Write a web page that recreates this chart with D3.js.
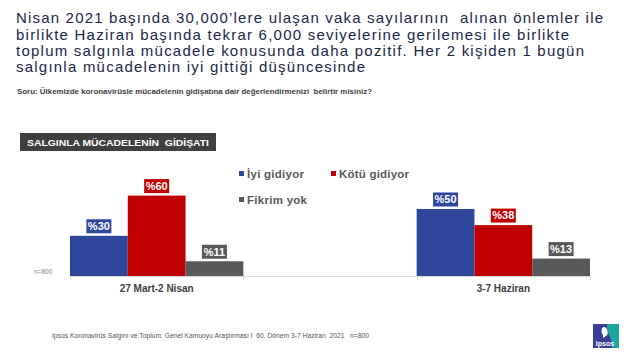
<!DOCTYPE html>
<html>
<head>
<meta charset="utf-8">
<script src="https://cdn.jsdelivr.net/npm/d3@7"></script>
<style>
  html, body { margin: 0; padding: 0; background: #fff; }
  svg { display: block; }
  text { font-family: "Liberation Sans", Arial, sans-serif; white-space: pre; }
</style>
</head>
<body>
<svg id="chart" width="640" height="360"></svg>
<script>
// ---- data ----
const titleLines = [
  "Nisan 2021 başında 30,000’lere ulaşan vaka sayılarının  alınan önlemler ile",
  "birlikte Haziran başında tekrar 6,000 seviyelerine gerilemesi ile birlikte",
  "toplum salgınla mücadele konusunda daha pozitif. Her 2 kişiden 1 bugün",
  "salgınla mücadelenin iyi gittiği düşüncesinde"
];
const question = "Soru: Ülkemizde koronavirüsle mücadelenin gidişatına dair değerlendirmenizi  belirtir misiniz?";
const boxTitle = "SALGINLA MÜCADELENİN  GİDİŞATI";
const footer = "Ipsos Koronavirüs Salgını ve Toplum: Genel Kamuoyu Araştırması I  60. Dönem 3-7 Haziran  2021   n=800";
const sampleNote = "n=800";

const periods = ["27 Mart-2 Nisan", "3-7 Haziran"];
const seriesNames = ["İyi gidiyor", "Kötü gidiyor", "Fikrim yok"];
const iyiValues = [30, 50];
const kotuValues = [60, 38];
const fikrimValues = [11, 13];
const seriesColors = ["#2f479b", "#c00000", "#595959"];

// ---- layout ----
const svg = d3.select("#chart");
const baseY = 276;
const x = d3.scaleBand().domain(periods).range([70, 590]).paddingInner(0.5).paddingOuter(0);
const xs = d3.scaleBand().domain(seriesNames).range([0, x.bandwidth()]).padding(0);
const y = d3.scaleLinear().domain([0, 100]).range([baseY, 142]);

// title
const titleBaselines = [23.3, 39.5, 55.8, 72];
const titleLengths = [587, 553, 568, 349];
svg.selectAll("text.title").data(titleLines).join("text")
  .attr("class", "title")
  .attr("x", 16)
  .attr("y", (d, i) => titleBaselines[i])
  .attr("textLength", (d, i) => titleLengths[i])
  .attr("lengthAdjust", "spacing")
  .attr("font-size", 15)
  .attr("fill", "#1c2748")
  .text(d => d);

svg.append("text")
  .attr("x", 17).attr("y", 94)
  .attr("textLength", 355).attr("lengthAdjust", "spacingAndGlyphs")
  .attr("font-size", 7.2).attr("font-weight", "bold")
  .attr("fill", "#404040")
  .text(question);

// box title
svg.append("rect").attr("x", 20).attr("y", 133).attr("width", 196).attr("height", 18).attr("fill", "#404040");
svg.append("text")
  .attr("x", 27).attr("y", 145.5)
  .attr("textLength", 182).attr("lengthAdjust", "spacingAndGlyphs")
  .attr("font-size", 9.8).attr("font-weight", "bold").attr("fill", "#fff")
  .text(boxTitle);

// data table
const table = periods.map((p, i) => ({
  period: p,
  values: [iyiValues[i], kotuValues[i], fikrimValues[i]].map((v, j) => ({ name: seriesNames[j], value: v, color: seriesColors[j] }))
}));

// axis
svg.append("line").attr("x1", 70).attr("x2", 590).attr("y1", baseY + 0.5).attr("y2", baseY + 0.5)
  .attr("stroke", "#d9d9d9").attr("stroke-width", 1);
const tickXs = [];
periods.forEach(p => { tickXs.push(x(p)); tickXs.push(x(p) + x.bandwidth()); });
svg.selectAll("line.tick").data(tickXs).join("line")
  .attr("class", "tick")
  .attr("x1", d => Math.round(d) + 0.5).attr("x2", d => Math.round(d) + 0.5)
  .attr("y1", baseY).attr("y2", baseY + 4)
  .attr("stroke", "#d9d9d9");

svg.selectAll("text.cat").data(periods).join("text")
  .attr("class", "cat")
  .attr("x", d => x(d) + x.bandwidth() / 2)
  .attr("y", 292)
  .attr("text-anchor", "middle")
  .attr("font-size", 10).attr("font-weight", "bold").attr("fill", "#404040")
  .text(d => d);

// bars
const groups = svg.selectAll("g.grp").data(table).join("g")
  .attr("class", "grp")
  .attr("transform", d => `translate(${x(d.period)},0)`);

groups.selectAll("rect.bar").data(d => d.values).join("rect")
  .attr("class", "bar")
  .attr("x", d => xs(d.name))
  .attr("y", d => y(d.value))
  .attr("width", xs.bandwidth())
  .attr("height", d => baseY - y(d.value))
  .attr("fill", d => d.color);

// value labels with boxes
groups.each(function(g) {
  const grp = d3.select(this);
  g.values.forEach(d => {
    const cx = xs(d.name) + xs.bandwidth() / 2;
    const bottom = y(d.value) - 2.5;
    const w = 25, h = 14;
    grp.append("rect")
      .attr("x", cx - w / 2).attr("y", bottom - h)
      .attr("width", w).attr("height", h)
      .attr("fill", d.color);
    grp.append("text")
      .attr("x", cx).attr("y", bottom - 3.2)
      .attr("text-anchor", "middle")
      .attr("font-size", 11).attr("font-weight", "bold").attr("fill", "#fff")
      .text("%" + d.value);
  });
});

// n=800
svg.append("text").attr("x", 34).attr("y", 274)
  .attr("font-size", 6.5).attr("fill", "#808080").text(sampleNote);

// legend
const legendPos = [
  { x: 239, y: 171, w: 57 },
  { x: 331, y: 171, w: 70 },
  { x: 239, y: 197, w: 60 }
];
seriesNames.forEach((n, i) => {
  const p = legendPos[i];
  svg.append("rect").attr("x", p.x).attr("y", p.y).attr("width", 5).attr("height", 5).attr("fill", seriesColors[i]);
  svg.append("text").attr("x", p.x + 8).attr("y", p.y + 6.5)
    .attr("textLength", p.w).attr("lengthAdjust", "spacing")
    .attr("font-size", 11.5).attr("font-weight", "bold").attr("fill", "#595959")
    .text(n);
});

// footer
svg.append("text").attr("x", 52).attr("y", 338)
  .attr("textLength", 317).attr("lengthAdjust", "spacingAndGlyphs")
  .attr("font-size", 6.5).attr("fill", "#555").text(footer);

// Ipsos logo
const logo = svg.append("g").attr("transform", "translate(593,324)");
logo.append("rect").attr("width", 26).attr("height", 24).attr("fill", "#3a3f98");
logo.append("path").attr("d", "M14,0 L26,0 L26,24 L19,24 C21,16 13,10 14,0 Z").attr("fill", "#1aa7a0");
logo.append("path").attr("d", "M11,3 C8,3 8,9 10,11 L10,14 L13,12 C16,11 15,3 11,3 Z").attr("fill", "#fff");
logo.append("text").attr("x", 12).attr("y", 21.5).attr("text-anchor", "middle")
  .attr("font-size", 7).attr("font-weight", "bold").attr("fill", "#fff").text("Ipsos");
</script>
</body>
</html>
